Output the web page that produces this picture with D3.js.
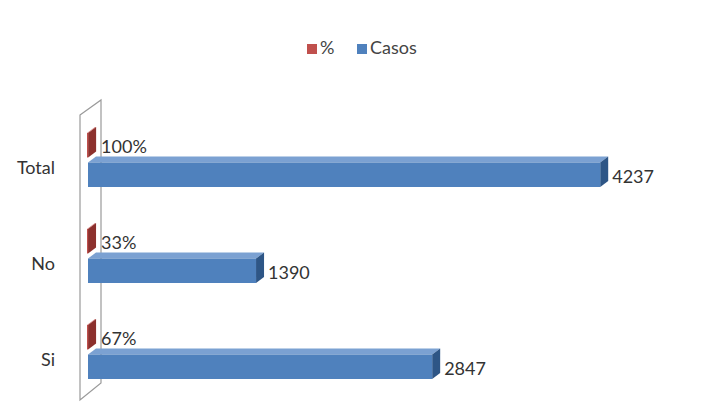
<!DOCTYPE html>
<html><head><meta charset="utf-8">
<script src="https://cdn.jsdelivr.net/npm/d3@7"></script>
<style>body{margin:0;background:#fff;} text{font-family:Lato,"Open Sans",sans-serif;}</style>
</head><body>
<svg id="c" width="712" height="403"></svg>
<script>
const categories = ["Total", "No", "Si"];
const seriesNames = ["%", "Casos"];
const pctValues = [1.00, 0.33, 0.67];
const pctLabels = ["100%", "33%", "67%"];
const casosValues = [4237, 1390, 2847];
const casosLabels = ["4237", "1390", "2847"];

const svg = d3.select("#c");
const colors = {
  "%": {front:"#C0504D", top:"#D9807E", side:"#8C302D"},
  "Casos": {front:"#4F81BD", top:"#7BA1D2", side:"#2E5686"}
};
const dx = 8, dy = 6;
const fs = 18;

const x = d3.scaleLinear().domain([0, 4500]).range([88, 632]);
const y = d3.scaleBand().domain(categories).range([122, 410]).padding(0);
const inner = d3.scaleBand().domain(seriesNames).range([11, 65]).paddingInner(0.17);

// 3D wall
svg.append("path")
  .attr("d", "M80,115 L101,100 L101,383 L80,400 Z")
  .attr("fill", "#fff").attr("stroke", "#9a9a9a").attr("stroke-width", 1.2);

// category axis
const axis = svg.append("g").attr("transform", "translate(80,0)")
  .call(d3.axisLeft(y).tickSize(0).tickPadding(25));
axis.select(".domain").remove();
axis.selectAll("text").attr("font-size", fs).attr("fill", "#333")
  .attr("font-family", "Lato,'Open Sans',sans-serif").attr("dy", "0.2em");

function bar3d(g, x0, x1, yt, h, c) {
  const w = Math.max(x1 - x0, 0.5);
  g.append("path")
    .attr("d", `M${x0},${yt} L${x0+dx},${yt-dy} L${x0+w+dx},${yt-dy} L${x0+w},${yt} Z`)
    .attr("fill", c.top);
  g.append("path")
    .attr("d", `M${x0+w},${yt} L${x0+w+dx},${yt-dy} L${x0+w+dx},${yt-dy+h} L${x0+w},${yt+h} Z`)
    .attr("fill", c.side);
  g.append("rect").attr("x", x0).attr("y", yt).attr("width", w).attr("height", h)
    .attr("fill", c.front);
}

const bars = svg.append("g");
categories.forEach((cat, i) => {
  const y0 = y(cat);
  const yp = y0 + inner("%"), hp = inner.bandwidth();
  bar3d(bars, x(0) - 1, x(pctValues[i]), yp, hp, colors["%"]);
  const yc = y0 + inner("Casos"), hc = inner.bandwidth();
  bar3d(bars, x(0), x(casosValues[i]), yc, hc, colors["Casos"]);

  bars.append("text").attr("x", x(pctValues[i]) + dx + 5).attr("y", yp + hp/2 + 3)
    .attr("dominant-baseline", "middle").attr("font-size", fs).attr("fill", "#333")
    .text(pctLabels[i]);
  bars.append("text").attr("x", x(casosValues[i]) + dx + 4).attr("y", yc + hc/2 + 4)
    .attr("dominant-baseline", "middle").attr("font-size", fs).attr("fill", "#333")
    .text(casosLabels[i]);
});

// legend
const legend = svg.append("g");
const legX = [307, 357];
seriesNames.forEach((s, i) => {
  legend.append("rect").attr("x", legX[i]).attr("y", 44).attr("width", 10).attr("height", 10)
    .attr("fill", colors[s].front);
  legend.append("text").attr("x", legX[i] + 13).attr("y", 49)
    .attr("dominant-baseline", "middle").attr("font-size", fs).attr("fill", "#444").text(s);
});
</script>
</body></html>
